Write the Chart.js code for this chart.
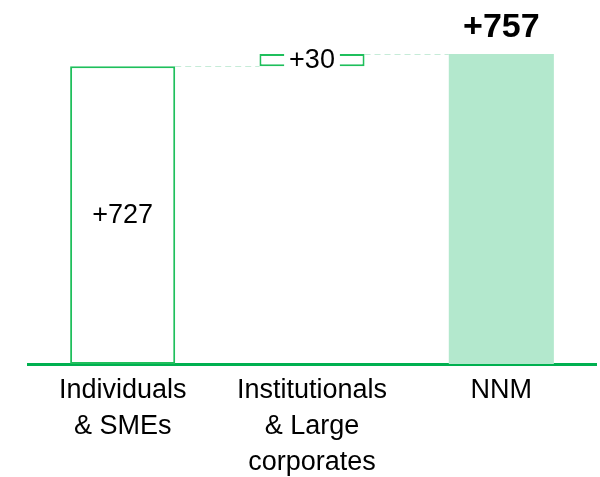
<!DOCTYPE html>
<html>
<head>
<meta charset="utf-8">
<script src="https://cdn.jsdelivr.net/npm/chart.js@4/dist/chart.umd.min.js"></script>
<style>
  html, body { margin: 0; padding: 0; background: #fff; }
  #wrap { width: 600px; height: 477px; }
</style>
</head>
<body>
<div id="wrap"><canvas id="chart"></canvas></div>
<script>
// waterfall data
const categories = [['Individuals', '& SMEs'], ['Institutionals', '& Large', 'corporates'], ['NNM']];
const starts = [0, 727, 0];
const ends = [727, 757, 757];
const valueLabels = ['+727', '+30', '+757'];

const GREEN = '#1fbf5c';
const AXIS = '#00b050';
const FILL = '#b3e8cd';
const FONT = '"Liberation Sans", Arial, sans-serif';

// dashed connectors between bars
const connectors = {
    id: 'connectors',
    beforeDatasetsDraw(chart) {
        const ctx = chart.ctx;
        const bars = chart.getDatasetMeta(0).data;
        const y = chart.scales.y;
        ctx.save();
        ctx.strokeStyle = '#c6ecd8';
        ctx.lineWidth = 1;
        ctx.setLineDash([6, 4]);
        for (let i = 0; i < bars.length - 1; i++) {
            const a = bars[i], b = bars[i + 1];
            const py = Math.round(y.getPixelForValue(ends[i])) + 0.5;
            ctx.beginPath();
            ctx.moveTo(a.x + a.width / 2, py);
            ctx.lineTo(b.x - b.width / 2, py);
            ctx.stroke();
        }
        ctx.restore();
    }
};

// value labels
const values = {
    id: 'values',
    afterDatasetsDraw(chart) {
        const ctx = chart.ctx;
        const bars = chart.getDatasetMeta(0).data;
        ctx.save();
        ctx.textAlign = 'center';
        ctx.textBaseline = 'middle';
        ctx.fillStyle = '#000';
        bars.forEach((bar, i) => {
            const top = Math.min(bar.y, bar.base);
            const bottom = Math.max(bar.y, bar.base);
            const mid = (top + bottom) / 2;
            if (i === 0) {
                ctx.font = '27px ' + FONT;
                ctx.fillText(valueLabels[i], bar.x, mid);
            } else if (i === 1) {
                ctx.font = '27px ' + FONT;
                const w = ctx.measureText(valueLabels[i]).width + 10;
                ctx.fillStyle = '#fff';
                ctx.fillRect(bar.x - w / 2, top - 4, w, bottom - top + 8);
                ctx.fillStyle = '#000';
                ctx.fillText(valueLabels[i], bar.x, mid);
            } else {
                ctx.font = 'bold 34px ' + FONT;
                ctx.fillText(valueLabels[i], bar.x, top - 26);
            }
        });
        ctx.restore();
    }
};

new Chart(document.getElementById('chart'), {
    type: 'bar',
    data: {
        labels: categories,
        datasets: [{
            data: starts.map((s, i) => [s, ends[i]]),
            backgroundColor: ['#ffffff', '#ffffff', FILL],
            borderColor: [GREEN, GREEN, FILL],
            borderWidth: [2, 2, 0],
            borderSkipped: false,
            barPercentage: 0.555,
            categoryPercentage: 1
        }]
    },
    options: {
        responsive: true,
        maintainAspectRatio: false,
        animation: false,
        layout: { padding: { left: 28, right: 4, top: 0, bottom: 0 } },
        plugins: {
            legend: { display: false },
            tooltip: { enabled: false }
        },
        scales: {
            x: {
                grid: { display: false, drawTicks: false },
                border: { display: true, color: AXIS, width: 3 },
                ticks: {
                    color: '#000',
                    padding: 9,
                    maxRotation: 0,
                    autoSkip: false,
                    font: { family: FONT, size: 27, lineHeight: 1.333 }
                },
                afterFit(scale) { scale.height = 113; }
            },
            y: {
                display: false,
                min: 0,
                max: 889
            }
        }
    },
    plugins: [connectors, values]
});
</script>
</body>
</html>
